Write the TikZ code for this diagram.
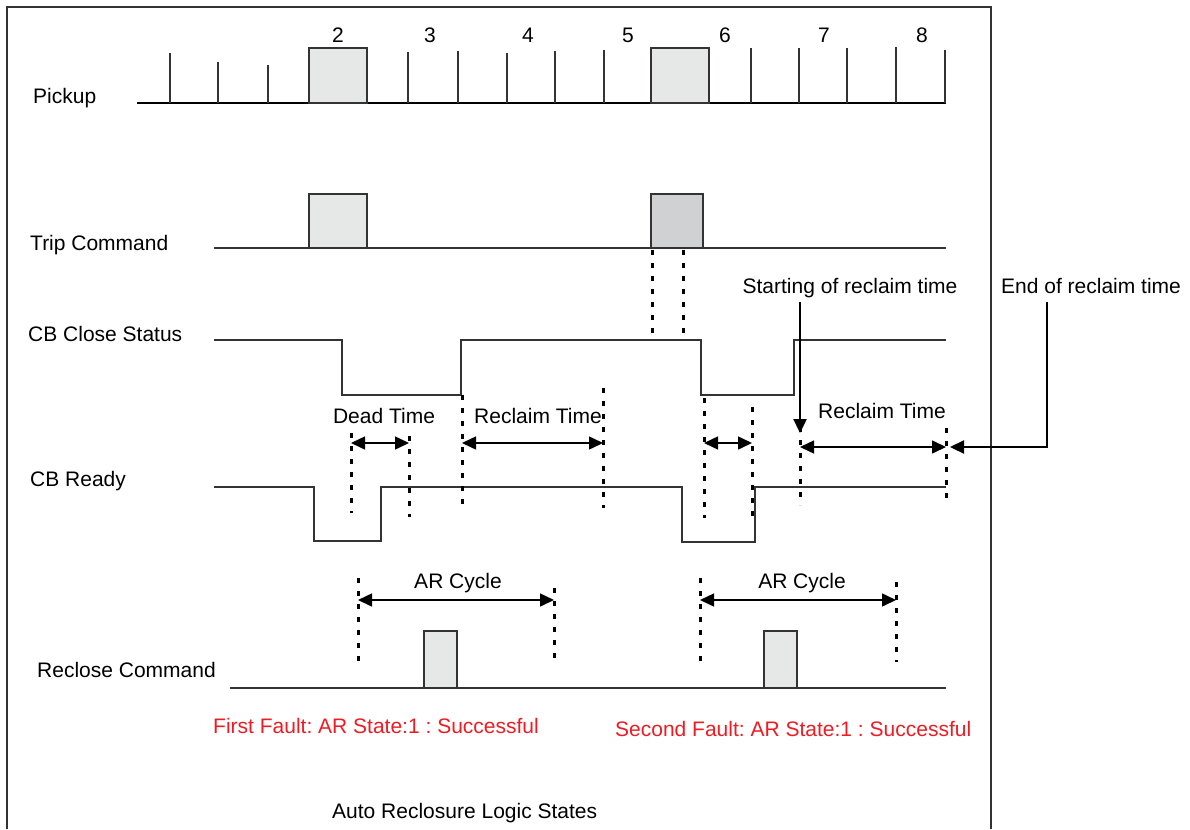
\documentclass[tikz,border=0pt]{standalone}
\usepackage{fontspec}
\setmainfont{Liberation Sans}
\usetikzlibrary{arrows.meta, calc, positioning}
\definecolor{pulsegray}{RGB}{230,231,231}
\definecolor{tripgray}{RGB}{208,209,211}
\definecolor{faultred}{RGB}{237,28,36}
\frenchspacing

\begin{document}
\begin{tikzpicture}[x=1pt,y=-1pt]
                % define styles
\tikzset{sig/.style={draw=black!80, line width=1.3pt},
         pulse/.style={draw=black!80, fill=pulsegray, line width=1.3pt},
         dotline/.style={draw=black, line width=3pt, dash pattern=on 5pt off 8pt},
         span/.style={line width=1.5pt,
                      arrows={Triangle[length=14pt,width=13pt]-Triangle[length=14pt,width=13pt]}},
         pointer/.style={line width=2.4pt,
                      arrows={-Triangle[length=14pt,width=13pt]}},
         lbl/.style={font=\fontsize{21}{25}\selectfont, inner sep=0pt},
         fault/.style={lbl, text=faultred}
}
\useasboundingbox (0,0) rectangle (1190,829);

% frame
\draw[line width=1.2pt, black!80] (7,829) -- (7,7) -- (991,7) -- (991,829);

% signal names
\node[lbl, anchor=base west] (pickup) at (33,104)  {Pickup};
\node[lbl, anchor=base west] (trip)   at (30,250)  {Trip Command};
\node[lbl, anchor=base west] (cbcs)   at (28,341)  {CB Close Status};
\node[lbl, anchor=base west] (cbrdy)  at (30,486)  {CB Ready};
\node[lbl, anchor=base west] (recl)   at (37,677)  {Reclose Command};

% pickup
\draw[line width=1.3pt] (137,103) -- (946,103);
\foreach \x/\top in {170/53, 218/62, 268/65, 408/52, 458/51, 507/53, 555/51,
                     604/50, 751/48, 799/48, 847/48, 896/47, 945/50}
    \draw[sig] (\x,\top) -- (\x,103);
\draw[pulse] (309,103) rectangle (367,48);
\draw[pulse] (651,103) rectangle (709,48);
\foreach \name/\idx/\x in {n2/2/338, n3/3/430, n4/4/528, n5/5/628, n6/6/725, n7/7/824, n8/8/922}
    \node[lbl, anchor=base] (\name) at (\x,43) {\idx};

% trip command
\draw[sig] (214,248) -- (946,248);
\draw[pulse] (309,248) rectangle (367,194);
\draw[pulse, fill=tripgray] (651,248) rectangle (703,194);

% cb close status
\draw[sig] (214,340) -- (342,340) -- (342,395) -- (461,395) -- (461,340)
           -- (701,340) -- (701,395) -- (794,395) -- (794,340) -- (946,340);

% cb ready
\draw[sig] (214,487) -- (314,487) -- (314,541) -- (381,541) -- (381,487)
           -- (682,487) -- (682,542) -- (755,542) -- (755,487) -- (946,487);

% reclose command
\draw[sig] (230,688) -- (946,688);
\draw[pulse] (424,688) rectangle (457,631);
\draw[pulse] (764,688) rectangle (797,631);

% dotted time markers
\foreach \x/\ya/\yb in {652/250/335, 683/250/335,
                        351/433/513, 409/436/517, 462/395/507, 603/388/508,
                        704/398/518, 752/407/523, 800/427/505, 946/428/498,
                        358/578/662, 554/588/662, 700/578/662, 896/582/662}
    \draw[dotline] (\x,\ya) -- (\x,\yb);

% span end points
\coordinate (dt1a) at (351,443);  \coordinate (dt1b) at (409,443);
\coordinate (rt1a) at (462,443);  \coordinate (rt1b) at (603,443);
\coordinate (dt2a) at (704,443);  \coordinate (dt2b) at (752,443);
\coordinate (rt2a) at (800,447);  \coordinate (rt2b) at (946,447);
\coordinate (ar1a) at (358,600);  \coordinate (ar1b) at (554,600);
\coordinate (ar2a) at (700,600);  \coordinate (ar2b) at (896,600);

\draw[span] (dt1a) -- (dt1b);
\draw[span] (rt1a) -- (rt1b);
\draw[span] (dt2a) -- (dt2b);
\draw[span] (rt2a) -- (rt2b);
\draw[span] (ar1a) -- (ar1b);
\draw[span] (ar2a) -- (ar2b);

% span labels
\node[lbl, anchor=base] (dead1)  at (384,423) {Dead Time};
\node[lbl, anchor=base] (recl1)  at (538,423) {Reclaim Time};
\node[lbl, anchor=base] (recl2)  at (882,418) {Reclaim Time};
\node[lbl, anchor=base] (arc1)   at (458,588) {AR Cycle};
\node[lbl, anchor=base] (arc2)   at (802,588) {AR Cycle};

% reclaim pointers
\node[lbl, anchor=base] (start)  at (850,293) {Starting of reclaim time};
\node[lbl, anchor=base] (finish) at (1091,293) {End of reclaim time};
\coordinate (st)  at (800,302);
\coordinate (stx) at (800,433);
\coordinate (et)  at (1047,302);
\coordinate (etx) at (950,447);
\draw[pointer] (st) -- (stx);
\draw[pointer] (et) |- (etx);

% results
\node[fault, anchor=base west] (first)  at (213,733) {First Fault: AR State:1 : Successful};
\node[fault, anchor=base west] (second) at (615,736) {Second Fault: AR State:1 : Successful};
\node[lbl, anchor=base west]   (title)  at (332,818) {Auto Reclosure Logic States};
\end{tikzpicture}
\end{document}
